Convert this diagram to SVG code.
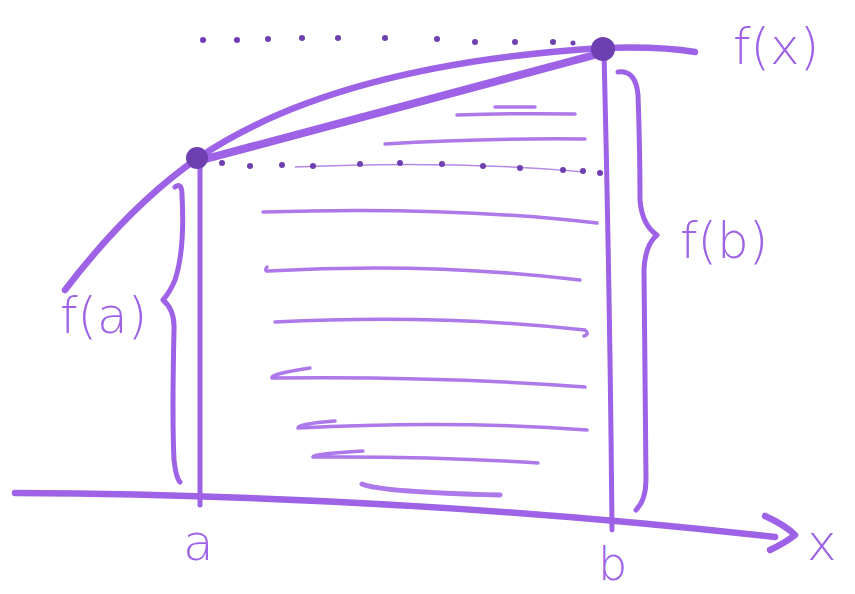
<svg xmlns="http://www.w3.org/2000/svg" width="855" height="594" viewBox="0 0 855 594">
<style>
.s{fill:none;stroke:#9d62e6;stroke-linecap:round;stroke-linejoin:round}
.main{stroke-width:6.5}
.thick{stroke-width:8}
.br{stroke-width:5}
.h{fill:none;stroke:#ad78ea;stroke-width:3.5;stroke-linecap:round;stroke-linejoin:round}
.d{fill:#6e3fb0}
.t{fill:#9d62e6;font-family:"DejaVu Sans",sans-serif;font-size:50px;font-weight:300}
</style>
<rect width="855" height="594" fill="#fff"/>
<g id="hatching">
<path class="h" d="M495,107 L535,107"/>
<path class="h" d="M457,115 Q520,113 575,114"/>
<path class="h" d="M385,144 Q480,138 585,139"/>
<path class="h" d="M263,212 Q450,206 597,223"/>
<path class="h" d="M267,267 Q264,271 268,271 Q430,262 580,280"/>
<path class="h" d="M275,322 Q440,314 585,330 Q590,334 584,336"/>
<path class="h" d="M310,368 Q270,374 272,378 Q440,376 585,387"/>
<path class="h" d="M335,421 Q297,424 298,428 Q450,420 587,430"/>
<path class="h" d="M363,451 Q312,454 313,457 Q430,456 538,463"/>
<path class="h" style="stroke-width:5" d="M362,484 Q380,492 500,495"/>
</g>
<g id="dots-top">
<circle class="d" cx="203" cy="40" r="3"/><circle class="d" cx="237" cy="40" r="3"/>
<circle class="d" cx="268" cy="39" r="3"/><circle class="d" cx="302" cy="38" r="3"/>
<circle class="d" cx="338" cy="38" r="3"/><circle class="d" cx="385" cy="38" r="3"/>
<circle class="d" cx="437" cy="39" r="3"/><circle class="d" cx="475" cy="42" r="3"/>
<circle class="d" cx="515" cy="42" r="3"/><circle class="d" cx="553" cy="42" r="3"/>
<circle class="d" cx="573" cy="43" r="2.5"/>
</g>
<g id="dots-mid">
<path fill="none" stroke="#b48ae6" stroke-width="1.5" d="M295,167 Q450,160 585,172"/>
<circle class="d" cx="222" cy="163" r="3"/><circle class="d" cx="250" cy="166" r="3"/>
<circle class="d" cx="282" cy="165" r="3"/><circle class="d" cx="313" cy="166" r="3"/>
<circle class="d" cx="360" cy="164" r="3"/><circle class="d" cx="400" cy="163" r="3"/>
<circle class="d" cx="442" cy="164" r="3"/><circle class="d" cx="483" cy="166" r="3"/>
<circle class="d" cx="520" cy="168" r="3"/><circle class="d" cx="563" cy="170" r="3"/>
<circle class="d" cx="583" cy="171" r="3"/><circle class="d" cx="600" cy="173" r="3"/>
</g>
<g id="connectors">
<path id="axis" class="s main" d="M15,493 Q400,495 775,537"/>
<path id="arrowhead" class="s main" d="M765,516 Q785,525 795,535 Q785,543 770,550"/>
<path id="curve" class="s main" d="M65,290 Q130,205 198,158 Q335,65 602,48 Q660,46 695,52"/>
<path id="chord" class="s thick" d="M198,161 L602,53"/>
<path id="vline-a" class="s br" d="M200,160 L200,505"/>
<path id="vline-b" class="s br" d="M604,52 Q610,300 612,530"/>
<path id="brace-a" class="s br" d="M175,187 Q182,182 182,195 Q185,250 175,280 Q170,292 163,300 Q175,310 174,330 Q172,420 174,460 Q176,478 180,482"/>
<path id="brace-b" class="s br" d="M618,72 Q636,70 638,95 Q640,150 640,200 Q642,225 657,235 Q645,245 644,270 Q645,400 646,480 Q646,500 636,510"/>
</g>
<g id="point-a"><circle class="d" cx="197" cy="158" r="11"/></g>
<g id="point-b"><circle class="d" cx="603" cy="49" r="12"/></g>
<g id="labels">
<text class="t" x="733" y="64">f(x)</text>
<text class="t" x="680" y="258">f(b)</text>
<text class="t" x="60" y="333">f(a)</text>
<text class="t" x="183" y="560">a</text>
<text class="t" x="598" y="580" style="font-size:46px">b</text>
<text class="t" x="807" y="560">x</text>
</g>
</svg>
